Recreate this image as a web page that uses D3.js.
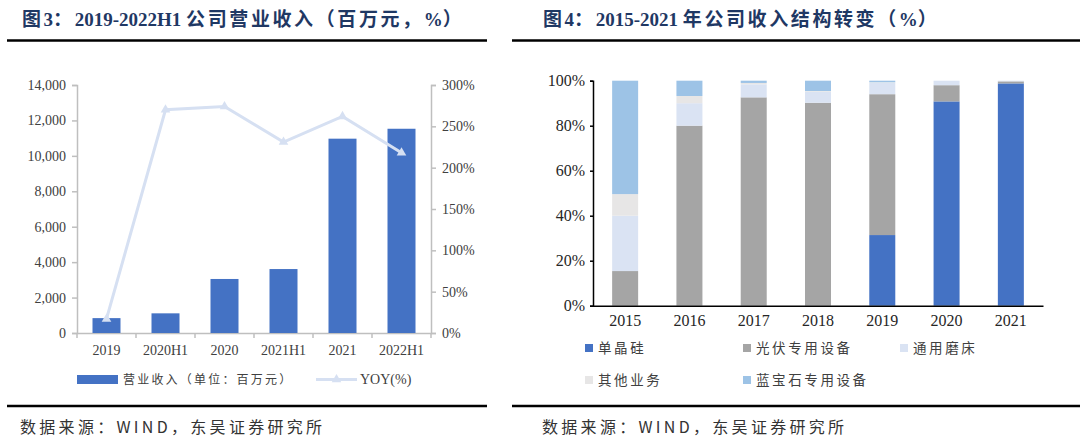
<!DOCTYPE html>
<html lang="zh">
<head>
<meta charset="UTF-8">
<title>营业收入与收入结构</title>
<script src="https://d3js.org/d3.v7.min.js"></script>
<style>
  body { margin: 0; background: #fff; }
  svg text { font-family: "Liberation Serif", "Noto Sans CJK SC", serif; }
  .cn { font-family: "Noto Sans CJK SC", sans-serif; }
</style>
</head>
<body>
<svg id="chart" width="1080" height="443"></svg>
<script>
// ---- figure 3 data ----
const periods = ["2019", "2020H1", "2020", "2021H1", "2021", "2022H1"];
const revenue = [840, 1110, 3050, 3610, 10970, 11530];
const yoy = [17, 270, 274, 231, 262, 218];
const revTicks = [0, 2000, 4000, 6000, 8000, 10000, 12000, 14000];
const yoyTicks = [0, 50, 100, 150, 200, 250, 300];

// ---- figure 4 data ----
const years = ["2015", "2016", "2017", "2018", "2019", "2020", "2021"];
const segNames = ["单晶硅", "光伏专用设备", "通用磨床", "其他业务", "蓝宝石专用设备"];
const mono   = [0, 0, 0, 0, 31.4, 90.8, 98.8];
const pvEq   = [15.4, 80.0, 92.6, 90.2, 62.6, 7.2, 0.9];
const grind  = [24.6, 10.0, 5.8, 4.9, 5.1, 2.0, 0.3];
const other  = [9.6, 3.2, 0.6, 0.3, 0.2, 0, 0];
const sapph  = [50.4, 6.8, 1.0, 4.6, 0.7, 0, 0];
const pctTicks = [0, 20, 40, 60, 80, 100];

const segColors = ["#4472C4", "#A5A5A5", "#DAE3F3", "#E7E6E6", "#9DC3E6"];
const svg = d3.select("#chart");
const titleColor = "#1F3864";

// ---------- headers and rules ----------
// parts: [text, isChinese]
function header(x, parts) {
  const t = svg.append("text").attr("x", x).attr("y", 26)
    .attr("font-size", 19).attr("font-weight", "bold").attr("fill", titleColor);
  parts.forEach(([s, cn]) => {
    t.append("tspan").attr("letter-spacing", cn ? 2.6 : 0).text(s);
  });
}
header(22, [["图", true], ["3", false], ["：", true], ["2019-2022H1 ", false],
  ["公司营业收入（百万元，", true], ["%", false], ["）", true]]);
header(543, [["图", true], ["4", false], ["：", true], ["2015-2021 ", false],
  ["年公司收入结构转变（", true], ["%", false], ["）", true]]);

[[7, 487], [512, 1080]].forEach(([a, b]) => {
  svg.append("line").attr("x1", a).attr("x2", b).attr("y1", 40.5).attr("y2", 40.5)
    .attr("stroke", "#000").attr("stroke-width", 2.5);
  svg.append("line").attr("x1", a).attr("x2", b).attr("y1", 406).attr("y2", 406)
    .attr("stroke", "#000").attr("stroke-width", 2.5);
});
[20, 542].forEach(x => {
  svg.append("text").attr("class", "cn").attr("x", x).attr("y", 433)
    .attr("font-size", 16).attr("letter-spacing", 3.3).attr("fill", "#333")
    .text("数据来源：WIND，东吴证券研究所");
});

// ---------- figure 3 ----------
{
  const x = d3.scaleBand().domain(periods).range([77, 431]);
  const y = d3.scaleLinear().domain([0, 14000]).range([333, 85]);
  const y2 = d3.scaleLinear().domain([0, 300]).range([333, 85]);
  const axisColor = "#BFBFBF";

  const gl = svg.append("g").attr("transform", "translate(77,0)")
    .call(d3.axisLeft(y).tickValues(revTicks).tickSize(5).tickFormat(d3.format(",")));
  const gr = svg.append("g").attr("transform", "translate(431,0)")
    .call(d3.axisRight(y2).tickValues(yoyTicks).tickSize(5).tickFormat(d => d + "%"));
  const gb = svg.append("g").attr("transform", "translate(0,333)")
    .call(d3.axisBottom(x).tickSize(0).tickPadding(12));
  [gl, gr, gb].forEach(g => {
    g.select(".domain").attr("stroke", axisColor).attr("stroke-width", 1.5);
    g.selectAll(".tick line").attr("stroke", axisColor).attr("stroke-width", 1.5);
    g.selectAll("text").attr("font-size", 14).attr("fill", "#404040")
      .attr("font-family", "Liberation Serif");
  });
  gl.selectAll("text").attr("dx", -3);
  gr.selectAll("text").attr("dx", 3);
  // category boundary ticks
  gb.selectAll(".bound").data(periods.concat(["end"])).join("line")
    .attr("x1", (d, i) => 77 + i * x.step()).attr("x2", (d, i) => 77 + i * x.step())
    .attr("y1", 0).attr("y2", 5).attr("stroke", axisColor).attr("stroke-width", 1.5);

  const bw = 28;
  svg.append("g").selectAll("rect").data(revenue).join("rect")
    .attr("x", (d, i) => x(periods[i]) + x.bandwidth() / 2 - bw / 2)
    .attr("y", d => y(d)).attr("width", bw).attr("height", d => y(0) - y(d))
    .attr("fill", "#4472C4");

  const line = d3.line().x((d, i) => x(periods[i]) + x.bandwidth() / 2).y(d => y2(d));
  svg.append("path").datum(yoy).attr("d", line)
    .attr("fill", "none").attr("stroke", "#D6E0F2").attr("stroke-width", 3);
  const tri = d3.symbol().type(d3.symbolTriangle).size(40);
  svg.append("g").selectAll("path").data(yoy).join("path")
    .attr("d", tri)
    .attr("transform", (d, i) => `translate(${x(periods[i]) + x.bandwidth() / 2},${y2(d)})`)
    .attr("fill", "#D6E0F2");

  // legend
  svg.append("rect").attr("x", 77).attr("y", 375).attr("width", 41).attr("height", 9).attr("fill", "#4472C4");
  svg.append("text").attr("class", "cn").attr("x", 123).attr("y", 384)
    .attr("font-size", 12).attr("letter-spacing", 2.2).attr("fill", "#404040")
    .text("营业收入（单位：百万元）");
  svg.append("line").attr("x1", 316).attr("x2", 357).attr("y1", 379.5).attr("y2", 379.5)
    .attr("stroke", "#D6E0F2").attr("stroke-width", 3);
  svg.append("path").attr("d", tri).attr("transform", "translate(336.5,379.5)").attr("fill", "#D6E0F2");
  svg.append("text").attr("x", 360).attr("y", 384).attr("font-size", 14).attr("fill", "#404040")
    .text("YOY(%)");
}

// ---------- figure 4 ----------
{
  const x = d3.scaleBand().domain(years).range([593, 1043]);
  const y = d3.scaleLinear().domain([0, 100]).range([305.7, 80.7]);
  const series = [mono, pvEq, grind, other, sapph];
  const table = years.map((yr, i) => {
    const row = { year: yr };
    segNames.forEach((n, k) => row[n] = series[k][i]);
    return row;
  });
  const stacked = d3.stack().keys(segNames)(table);

  const bw = 26;
  svg.append("g").selectAll("g").data(stacked).join("g")
    .attr("fill", (d, k) => segColors[k])
    .selectAll("rect").data(d => d).join("rect")
    .attr("x", d => x(d.data.year) + x.bandwidth() / 2 - bw / 2)
    .attr("y", d => y(d[1])).attr("width", bw)
    .attr("height", d => Math.max(0, y(d[0]) - y(d[1])));

  const gl = svg.append("g").attr("transform", "translate(593,0)")
    .call(d3.axisLeft(y).tickValues(pctTicks).tickSize(3).tickFormat(d => d + "%"));
  const gb = svg.append("g").attr("transform", "translate(0,305.7)")
    .call(d3.axisBottom(x).tickSize(0).tickPadding(9));
  [gl, gb].forEach(g => {
    g.select(".domain").attr("stroke", "#000").attr("stroke-width", 1.5);
    g.selectAll(".tick line").attr("stroke", "#000").attr("stroke-width", 1.5);
    g.selectAll("text").attr("font-size", 16).attr("fill", "#262626")
      .attr("font-family", "Liberation Serif");
  });
  gl.selectAll("text").attr("dx", -2);

  const legendPos = [[585, 348], [743, 348], [900, 348], [585, 380], [743, 380]];
  segNames.forEach((n, k) => {
    const [lx, ly] = legendPos[k];
    svg.append("rect").attr("x", lx).attr("y", ly - 4).attr("width", 8).attr("height", 8)
      .attr("fill", segColors[k]);
    svg.append("text").attr("class", "cn").attr("x", lx + 13).attr("y", ly + 5)
      .attr("font-size", 13.5).attr("letter-spacing", 2.6).attr("fill", "#404040").text(n);
  });
}
</script>
</body>
</html>
